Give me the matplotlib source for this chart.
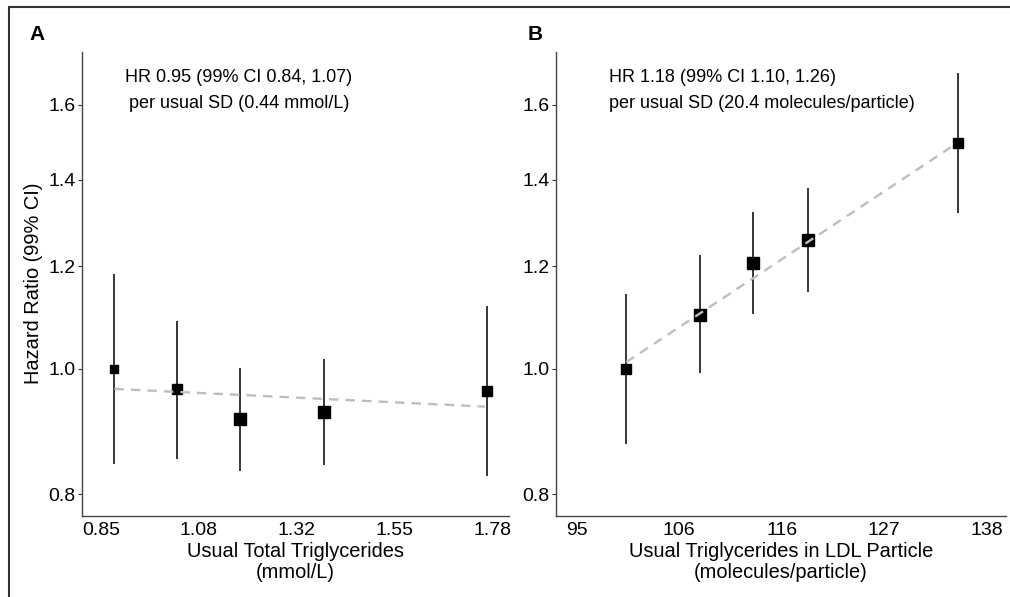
import numpy as np
import matplotlib
matplotlib.use("Agg")
import matplotlib.pyplot as plt
from matplotlib.patches import Rectangle
from matplotlib.ticker import FixedLocator, NullLocator

plt.rcParams['font.family'] = ['Liberation Sans', 'DejaVu Sans']

# panel A: usual total triglycerides (mmol/L)
tg_x = [0.882, 1.031, 1.181, 1.380, 1.769]
tg_hr = [1.000, 0.964, 0.914, 0.926, 0.961]
tg_lo = [0.844, 0.852, 0.834, 0.843, 0.826]
tg_hi = [1.184, 1.089, 1.001, 1.018, 1.119]
tg_size = [6, 7, 9, 9, 7]
tg_fit_x = [0.882, 1.763]
tg_fit_y = [0.965, 0.935]
tg_ticks = [0.85, 1.0825, 1.315, 1.5475, 1.78]
tg_ticklabels = ['0.85', '1.08', '1.32', '1.55', '1.78']

# panel B: usual triglycerides in LDL particle (molecules/particle)
ldl_x = [100.2, 107.9, 113.5, 119.3, 135.0]
ldl_hr = [1.000, 1.101, 1.207, 1.258, 1.495]
ldl_lo = [0.875, 0.992, 1.102, 1.146, 1.319]
ldl_hi = [1.142, 1.224, 1.322, 1.379, 1.695]
ldl_size = [6.5, 8, 9, 8, 7]
ldl_fit_x = [100.2, 134.5]
ldl_fit_y = [1.012, 1.488]
ldl_ticks = [95, 105.75, 116.5, 127.25, 138]
ldl_ticklabels = ['95', '106', '116', '127', '138']

yticks = [0.8, 1.0, 1.2, 1.4, 1.6]

fig = plt.figure(figsize=(10.10, 5.97), dpi=100)
fig.patches.append(Rectangle((9 / 1010, -0.1), 1.2, 1.1 - 7 / 597,
                             transform=fig.transFigure, fill=False,
                             edgecolor='#333333', linewidth=1.5))

axA = fig.add_axes([0.0812, 0.1362, 0.4231, 0.7772])
axB = fig.add_axes([0.5505, 0.1362, 0.4452, 0.7772])


def panel(ax, x, hr, lo, hi, sizes, fx, fy, xticks, xlabels, xlim, xlabel):
    ax.set_yscale('log')
    ax.vlines(x, lo, hi, color='black', linewidth=1.1, zorder=2)
    for xi, yi, s in zip(x, hr, sizes):
        ax.plot(xi, yi, marker='s', markersize=s, color='black',
                linestyle='none', zorder=3)
    ax.plot(fx, fy, color='#bebebe', linewidth=1.7, dashes=(4, 3), zorder=4)
    ax.set_ylim(0.770, 1.759)
    ax.set_xlim(*xlim)
    ax.yaxis.set_major_locator(FixedLocator(yticks))
    ax.yaxis.set_minor_locator(NullLocator())
    ax.set_yticklabels(['%.1f' % v for v in yticks])
    ax.set_xticks(xticks)
    ax.set_xticklabels(xlabels)
    ax.xaxis.set_minor_locator(NullLocator())
    ax.tick_params(axis='y', length=3, width=0.8, color='#333333', pad=1.5,
                   labelsize=14, labelcolor='black')
    ax.tick_params(axis='x', length=0, pad=4.5, labelsize=14,
                   labelcolor='black')
    for s in ['top', 'right']:
        ax.spines[s].set_visible(False)
    for s in ['left', 'bottom']:
        ax.spines[s].set_color('#444444')
        ax.spines[s].set_linewidth(1.0)
    ax.set_xlabel(xlabel, fontsize=14.4, labelpad=2, linespacing=1.12)


panel(axA, tg_x, tg_hr, tg_lo, tg_hi, tg_size, tg_fit_x, tg_fit_y,
      tg_ticks, tg_ticklabels, (0.805, 1.821),
      'Usual Total Triglycerides\n(mmol/L)')
panel(axB, ldl_x, ldl_hr, ldl_lo, ldl_hi, ldl_size, ldl_fit_x, ldl_fit_y,
      ldl_ticks, ldl_ticklabels, (92.83, 140.0),
      'Usual Triglycerides in LDL Particle\n(molecules/particle)')

axA.set_ylabel('Hazard Ratio (99% CI)', fontsize=14.4)
axA.yaxis.set_label_coords(-0.092, 0.5)

fig.text(239 / 1010, 1 - 77.7 / 597, 'HR 0.95 (99% CI 0.84, 1.07)',
         ha='center', va='center', fontsize=13)
fig.text(239 / 1010, 1 - 104 / 597, 'per usual SD (0.44 mmol/L)',
         ha='center', va='center', fontsize=13)
fig.text(609 / 1010, 1 - 77.7 / 597, 'HR 1.18 (99% CI 1.10, 1.26)',
         ha='left', va='center', fontsize=13)
fig.text(609 / 1010, 1 - 104 / 597, 'per usual SD (20.4 molecules/particle)',
         ha='left', va='center', fontsize=13)

fig.text(29 / 1010, 1 - 35 / 597, 'A', ha='left', va='center',
         fontsize=15, fontweight='bold')
fig.text(528 / 1010, 1 - 35 / 597, 'B', ha='left', va='center',
         fontsize=15, fontweight='bold')

fig.savefig('out.png', dpi=100)
